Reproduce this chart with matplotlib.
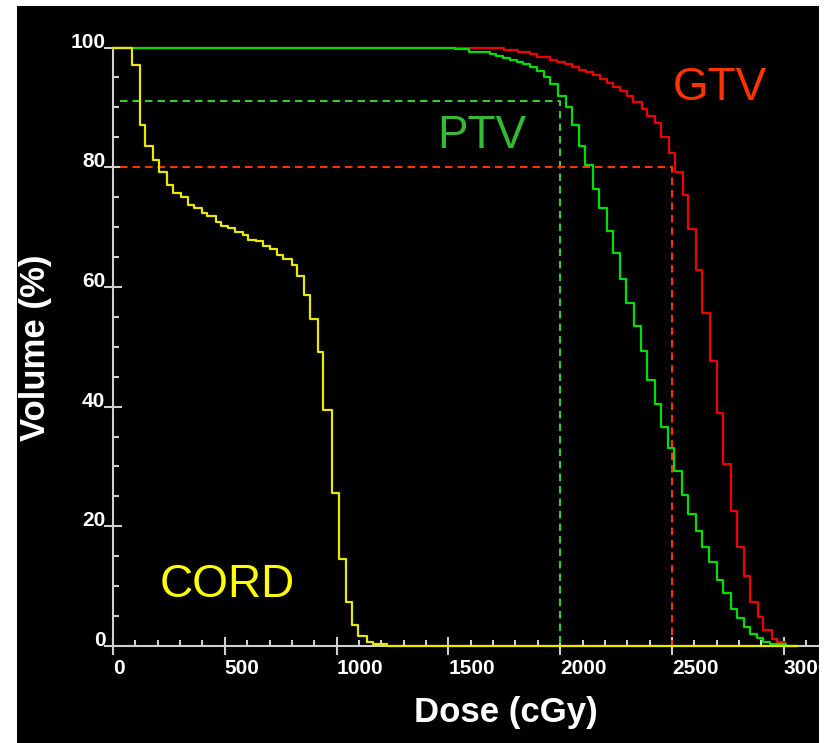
import matplotlib
matplotlib.use("Agg")
import matplotlib.pyplot as plt
from matplotlib.patches import Rectangle
from matplotlib.ticker import MultipleLocator

# cumulative DVH: dose (cGy) where each step starts, volume (%)
cord_dose = [0, 86, 121, 143, 180, 207, 243, 267, 303, 337, 362, 397, 422, 459, 482,
             516, 546, 580, 605, 640, 672, 702, 732, 759, 799, 822, 854, 881, 918,
             941, 978, 1012, 1041, 1067, 1097, 1135, 1161, 1224, 3060]
cord_vol = [100, 97.0, 87.0, 83.5, 81.2, 79.2, 77.0, 75.7, 75.0, 73.7, 73.1, 72.4, 71.8,
            70.8, 70.1, 69.8, 69.2, 68.6, 67.9, 67.6, 66.9, 66.3, 65.4, 64.7, 63.6,
            61.8, 58.6, 54.6, 49.1, 39.4, 25.5, 14.5, 7.4, 3.5, 1.6, 0.7, 0.3, 0, 0]

ptv_dose = [0, 1530, 1590, 1688, 1714, 1745, 1775, 1808, 1834, 1865, 1898, 1928, 1954,
            1992, 2026, 2051, 2085, 2113, 2146, 2175, 2208, 2235, 2267, 2294, 2330,
            2361, 2390, 2424, 2449, 2484, 2510, 2546, 2573, 2606, 2633, 2667, 2700,
            2727, 2763, 2789, 2822, 2849, 2881, 2905, 2938, 3010, 3060]
ptv_vol = [100, 99.7, 99.3, 98.9, 98.5, 98.2, 97.9, 97.6, 97.2, 96.8, 96.1, 95.1, 93.9,
           91.9, 90.0, 87.0, 83.5, 80.3, 76.4, 73.1, 69.3, 65.7, 61.3, 57.3, 53.5,
           49.3, 44.4, 40.4, 36.6, 33.0, 29.2, 25.2, 22.0, 19.2, 16.6, 14.0, 11.0,
           8.8, 6.1, 4.6, 3.2, 2.0, 1.3, 0.7, 0.3, 0, 0]

gtv_dose = [0, 1537, 1748, 1810, 1865, 1898, 1954, 1987, 2021, 2051, 2085, 2115, 2148,
            2178, 2208, 2237, 2267, 2297, 2327, 2364, 2390, 2424, 2449, 2488, 2513,
            2547, 2573, 2607, 2633, 2670, 2703, 2729, 2763, 2789, 2822, 2849, 2886,
            2908, 2946, 2971, 3005, 3015]
gtv_vol = [100, 99.9, 99.5, 99.2, 98.9, 98.4, 97.9, 97.6, 97.2, 96.8, 96.3, 95.9, 95.4,
           94.7, 94.0, 93.4, 92.8, 91.9, 90.9, 89.8, 88.5, 87.4, 85.1, 82.4, 79.2,
           75.4, 69.6, 62.8, 55.7, 47.6, 38.9, 30.4, 22.6, 16.5, 11.7, 7.4, 4.9,
           2.7, 1.1, 0.6, 0, 0]

# reference points marked with dashed lines (dose, volume)
ptv_ref = (2000, 91)
gtv_ref = (2500, 80)

x_ticks = [0, 500, 1000, 1500, 2000, 2500, 3000]
y_ticks = [0, 20, 40, 60, 80, 100]

W, H = 825, 743
fig = plt.figure(figsize=(W / 100, H / 100), dpi=100, facecolor="black")

# white strips round the black screenshot
for x0, y0, w, h in [(0, 0, 17, H), (0, H - 6, W, 6), (819, 0, W - 819, H)]:
    fig.add_artist(Rectangle((x0 / W, y0 / H), w / W, h / H, transform=fig.transFigure,
                             facecolor="white", edgecolor="none", zorder=10))

ax = fig.add_axes([113 / W, 97 / H, (818 - 113) / W, (646 - 47.5) / H])
ax.set_facecolor("black")
ax.set_xlim(0, 3153)
ax.set_ylim(0, 100)

axis_col = "#d0d0d0"
for s in ["top", "right"]:
    ax.spines[s].set_visible(False)
for s in ["left", "bottom"]:
    ax.spines[s].set_color(axis_col)
    ax.spines[s].set_linewidth(1.5)
    ax.spines[s].set_zorder(1)

ax.xaxis.set_major_locator(MultipleLocator(500))
ax.xaxis.set_minor_locator(MultipleLocator(100))
ax.yaxis.set_major_locator(MultipleLocator(20))
ax.yaxis.set_minor_locator(MultipleLocator(5))
ax.set_xticks(x_ticks)
ax.set_yticks(y_ticks)

tick_font = dict(family=["Liberation Sans", "DejaVu Sans"], weight="bold", size=15)
ax.tick_params(which="major", direction="inout", length=13, width=1.5, color=axis_col,
               labelcolor="white")
ax.tick_params(which="minor", direction="in", length=4, width=1.5, color=axis_col)
ax.tick_params(axis="x", which="major", pad=3)
ax.tick_params(axis="y", which="major", pad=-1)
ax.set_xticklabels([str(t) for t in x_ticks], fontdict=tick_font, ha="left")
ax.set_yticklabels([str(t) for t in y_ticks], fontdict=tick_font, va="baseline")

# dashed reference lines
ax.plot([30, ptv_ref[0], ptv_ref[0]], [ptv_ref[1], ptv_ref[1], 0], color="#33cc33",
        lw=1.5, dashes=(3.6, 2.4), zorder=2)
ax.plot([30, gtv_ref[0], gtv_ref[0]], [gtv_ref[1], gtv_ref[1], 0], color="#ff3300",
        lw=1.5, dashes=(3.6, 2.4), zorder=2)

# DVH curves
ax.step(gtv_dose, gtv_vol, where="post", color="#ee0000", lw=1.6, zorder=3, clip_on=False)
ax.step(ptv_dose, ptv_vol, where="post", color="#00dd00", lw=1.6, zorder=4, clip_on=False)
ax.step(cord_dose, cord_vol, where="post", color="#e8e800", lw=1.6, zorder=5, clip_on=False)

lab_font = ["Liberation Sans", "DejaVu Sans"]
ax.text(2715, 91.2, "GTV", color="#ff3300", fontsize=33, family=lab_font,
        ha="center", va="baseline")
ax.text(1650, 83.2, "PTV", color="#33bb33", fontsize=33, family=lab_font,
        ha="center", va="baseline")
ax.text(512, 8.2, "CORD", color="#ffff00", fontsize=33, family=lab_font,
        ha="center", va="baseline")

fig.text(506 / W, 1 - 722 / H, "Dose (cGy)", color="white", fontsize=25,
         fontweight="bold", family=lab_font, ha="center", va="baseline")
fig.text(45 / W, 1 - 348 / H, "Volume (%)", color="white", fontsize=25,
         fontweight="bold", family=lab_font, ha="center", va="baseline",
         rotation=90, rotation_mode="anchor")

fig.savefig("out.png", dpi=100, facecolor=fig.get_facecolor())
